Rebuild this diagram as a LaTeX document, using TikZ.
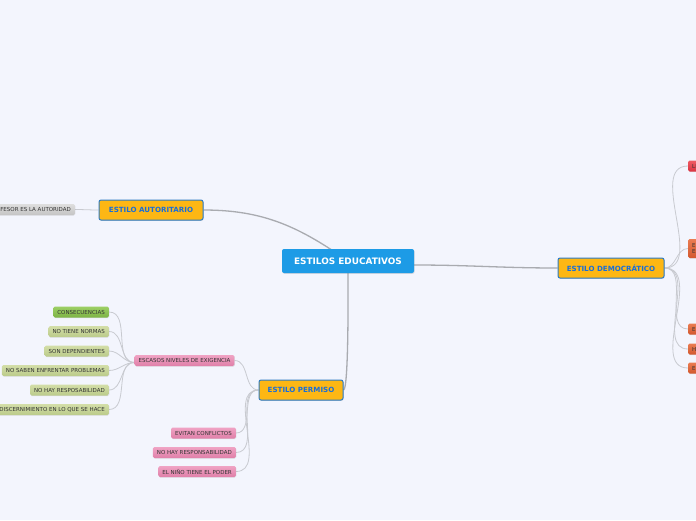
\documentclass[tikz,border=0pt]{standalone}
\usepackage{fontspec}
\setmainfont{DejaVu Sans}
\usetikzlibrary{backgrounds,shadows}

\definecolor{bgpage}{HTML}{F3F5FD}
\definecolor{rootblue}{HTML}{1D9BE6}
\definecolor{mainfill}{HTML}{FDB714}
\definecolor{mainline}{HTML}{2C7BC4}
\definecolor{maintext}{HTML}{1A6ED8}
\definecolor{linkgray}{HTML}{C8CAD0}
\definecolor{trunkgray}{HTML}{A9ABB0}
\definecolor{greentop}{HTML}{9CCF64}
\definecolor{greenbot}{HTML}{7DB345}
\definecolor{olivetop}{HTML}{D3DEA8}
\definecolor{olivebot}{HTML}{BBCB8A}
\definecolor{pinktop}{HTML}{F0A3C4}
\definecolor{pinkbot}{HTML}{DF7FA8}
\definecolor{graytop}{HTML}{DEDEDE}
\definecolor{graybot}{HTML}{C4C4C4}
\definecolor{redtop}{HTML}{EF5A63}
\definecolor{redbot}{HTML}{D93340}
\definecolor{orangetop}{HTML}{EA7C52}
\definecolor{orangebot}{HTML}{D2582E}

\begin{document}
\begin{tikzpicture}[x=1pt,y=-1pt,
  root/.style={fill=rootblue,rounded corners=2pt,text=white,
    font=\bfseries\fontsize{8.9}{10}\selectfont,minimum width=132pt,minimum height=24pt,
    drop shadow={shadow xshift=0.6pt,shadow yshift=-0.8pt,opacity=0.25}},
  main/.style={fill=mainfill,draw=mainline,line width=1pt,rounded corners=2pt,text=maintext,
    font=\bfseries\fontsize{7.1}{8}\selectfont,minimum height=20pt,
    drop shadow={shadow xshift=0.6pt,shadow yshift=-0.8pt,opacity=0.25}},
  leaf/.style={rounded corners=1.5pt,text=black!80,font=\fontsize{5.5}{6.2}\selectfont,
    inner xsep=4pt,inner ysep=0pt,minimum height=11pt,
    drop shadow={shadow xshift=0.5pt,shadow yshift=-0.6pt,opacity=0.2}},
  grayleaf/.style={leaf,top color=graytop,bottom color=graybot},
  greenleaf/.style={leaf,top color=greentop,bottom color=greenbot},
  oliveleaf/.style={leaf,top color=olivetop,bottom color=olivebot},
  pinkleaf/.style={leaf,top color=pinktop,bottom color=pinkbot},
  redleaf/.style={leaf,top color=redtop,bottom color=redbot},
  orangeleaf/.style={leaf,top color=orangetop,bottom color=orangebot},
  link/.style={draw=linkgray,line width=0.8pt},
  trunk/.style={draw=trunkgray,line width=1.3pt}]

  \useasboundingbox (0,0) rectangle (696,520);
  \clip (0,0) rectangle (696,520);

  % central topic and main branches
  \node[root] (ctr) at (348,261) {ESTILOS EDUCATIVOS};
  \node[main,minimum width=104pt] (auto) at (151,210) {ESTILO AUTORITARIO};
  \node[main,minimum width=106pt] (demo) at (611,268) {ESTILO DEMOCRÁTICO};
  \node[main,minimum width=84pt] (perm) at (301,390) {ESTILO PERMISO};

  % autoritario
  \node[grayleaf,anchor=east] (prof) at (75,209.5) {EL PROFESOR ES LA AUTORIDAD};

  % permiso
  \node[pinkleaf] (esc) at (184.5,360.5) {ESCASOS NIVELES DE EXIGENCIA};
  \node[greenleaf,anchor=east] (e1) at (109,312) {CONSECUENCIAS};
  \node[oliveleaf,anchor=east] (e2) at (109,331.5) {NO TIENE NORMAS};
  \node[oliveleaf,anchor=east] (e3) at (109,351) {SON DEPENDIENTES};
  \node[oliveleaf,anchor=east] (e4) at (109,370.5) {NO SABEN ENFRENTAR PROBLEMAS};
  \node[oliveleaf,anchor=east] (e5) at (109,390) {NO HAY RESPOSABILIDAD};
  \node[oliveleaf,anchor=east] (e6) at (109,409.5) {SIN DISCERNIMIENTO EN LO QUE SE HACE};
  \node[pinkleaf,anchor=east] (p1) at (236,433) {EVITAN CONFLICTOS};
  \node[pinkleaf,anchor=east] (p2) at (236,452.5) {NO HAY RESPONSABILIDAD};
  \node[pinkleaf,anchor=east] (p3) at (236,471.5) {EL NIÑO TIENE EL PODER};

  % democratico
  \node[redleaf,anchor=west] (d1) at (688,166) {LIBERTAD};
  \node[orangeleaf,anchor=west,align=left,minimum height=19pt] (d2) at (688,248.5) {EL\\ ES};
  \node[orangeleaf,anchor=west] (d3) at (688,329) {EL};
  \node[orangeleaf,anchor=west] (d4) at (688,349) {HAY};
  \node[orangeleaf,anchor=west] (d5) at (688,368) {EL};

  \begin{scope}[on background layer]
    \fill[bgpage] (0,0) rectangle (696,520);
    \draw[trunk] (ctr.center) to[out=145,in=0] (auto.east);
    \draw[trunk] ([yshift=-4pt]ctr.east) to[out=0,in=180] (demo.west);
    \draw[trunk] (ctr.south) to[out=-90,in=0,looseness=0.12] (perm.east);
    \draw[link] (auto.west) to[out=180,in=0] (prof.east);
    \draw[link] (perm.west) to[out=180,in=0] (esc.east);
    \foreach \n in {e1,e2,e3,e4,e5,e6}
      \draw[link] ([yshift=-2pt]esc.west) to[out=180,in=0] (\n.east);
    \foreach \n in {p1,p2,p3}
      \draw[link] (perm.west) to[out=180,in=0] (\n.east);
    \foreach \n in {d1,d2,d3,d4,d5}
      \draw[link] (demo.east) to[out=0,in=180] (\n.west);
  \end{scope}
\end{tikzpicture}
\end{document}
